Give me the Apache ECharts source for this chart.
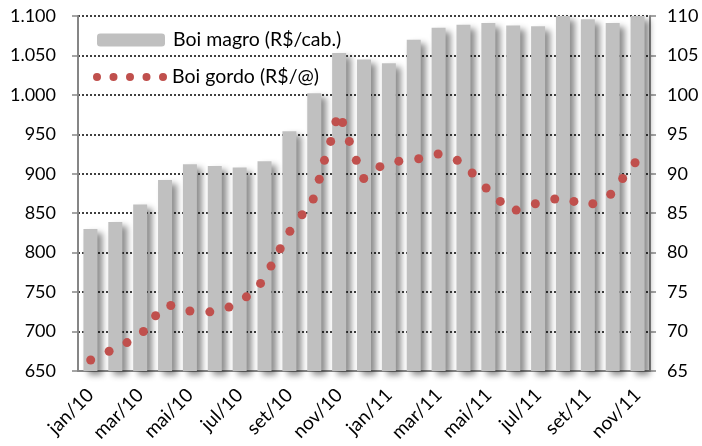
<!DOCTYPE html>
<html lang="pt">
<head>
  <meta charset="UTF-8" />
  <title>Boi magro x Boi gordo</title>
  <script src="https://cdn.jsdelivr.net/npm/echarts@6/dist/echarts.min.js"></script>
  <style>
    html, body { margin: 0; padding: 0; background: #fff; }
    #chart { width: 702px; height: 446px; }
  </style>
</head>
<body>
  <div id="chart"></div>
  <script>
    // meses (eixo das barras)
    var months = ["jan/10", "fev/10", "mar/10", "abr/10", "mai/10", "jun/10", "jul/10", "ago/10",
      "set/10", "out/10", "nov/10", "dez/10", "jan/11", "fev/11", "mar/11", "abr/11", "mai/11",
      "jun/11", "jul/11", "ago/11", "set/11", "out/11", "nov/11"];

    // Boi magro (R$/cab.) - eixo esquerdo
    var boiMagro = [830, 839, 861, 892, 912, 910, 908, 916, 954, 1002, 1053, 1045, 1040, 1070,
      1085, 1089, 1091, 1088, 1087, 1100, 1096, 1091, 1100];

    // Boi gordo (R$/@) - eixo direito, posicao em meses desde o inicio de jan/10
    var gordoPos = [0.51, 1.25, 1.97, 2.63, 3.12, 3.73, 4.50, 5.30, 6.07, 6.77, 7.34, 7.76, 8.13,
      8.52, 9.01, 9.46, 9.70, 9.91, 10.16, 10.37, 10.64, 10.91, 11.19, 11.49, 12.14, 12.90, 13.70,
      14.48, 15.25, 15.85, 16.41, 16.98, 17.62, 18.39, 19.17, 19.94, 20.70, 21.42, 21.90, 22.40];
    var boiGordo = [66.4, 67.5, 68.6, 70.0, 72.0, 73.3, 72.6, 72.5, 73.1, 74.4, 76.1, 78.3, 80.5,
      82.7, 84.8, 86.8, 89.3, 91.7, 94.1, 96.6, 96.5, 94.1, 91.7, 89.4, 90.9, 91.6, 91.9, 92.5,
      91.7, 90.1, 88.2, 86.5, 85.4, 86.2, 86.8, 86.5, 86.2, 87.4, 89.4, 91.4];

    var FONT = "Lato";
    var FS = 18;

    function thousands(v) {
      if(v < 1000) return String(v);
      return Math.floor(v / 1000) + "." + String(v % 1000).padStart(3, "0");
    }

    // legenda com 5 pontinhos
    function dotsIcon() {
      var p = "";
      for(var i = 0; i < 5; i++) {
        var x = i * 16.5;
        p += "M" + x + ",4a4,4 0 1,0 8,0a4,4 0 1,0 -8,0";
      }
      return "path://" + p;
    }

    var chart = echarts.init(document.getElementById("chart"));
    var axisGray = "#868686";

    chart.setOption({
      animation: false,
      grid: { left: 78, right: 52, top: 16, bottom: 75 },
      legend: [{
        data: ["Boi magro (R$/cab.)"],
        left: 92, top: 25,
        itemWidth: 68, itemHeight: 13,
        textStyle: { fontFamily: FONT, fontSize: 19.5, color: "#000", padding: [0, 0, 0, 3] }
      }, {
        data: [{ name: "Boi gordo (R$/@)", icon: dotsIcon() }],
        left: 88, top: 62,
        itemWidth: 74, itemHeight: 8,
        textStyle: { fontFamily: FONT, fontSize: 19.5, color: "#000" }
      }],
      xAxis: [{
        type: "category",
        data: months,
        boundaryGap: true,
        axisLine: { lineStyle: { color: axisGray, width: 2 } },
        axisTick: { interval: 1, length: 5, lineStyle: { color: axisGray, width: 1.5 } },
        axisLabel: { interval: 1, rotate: 45, margin: 21, fontFamily: FONT, fontSize: 19, color: "#000" }
      }, {
        type: "value",
        min: 0, max: months.length,
        show: false
      }],
      yAxis: [{
        type: "value",
        min: 650, max: 1100, interval: 50,
        axisLine: { show: true, lineStyle: { color: axisGray, width: 2 } },
        axisTick: { show: true, length: 6, lineStyle: { color: axisGray, width: 1.5 } },
        axisLabel: { margin: 22, fontFamily: FONT, fontSize: FS, color: "#000", formatter: thousands },
        splitLine: { lineStyle: { color: "#000", type: [2, 2], width: 1.5 } }
      }, {
        type: "value",
        min: 65, max: 110, interval: 5,
        position: "right",
        axisLine: { show: true, lineStyle: { color: axisGray, width: 2 } },
        axisTick: { show: true, length: 6, lineStyle: { color: axisGray, width: 1.5 } },
        axisLabel: { margin: 17, fontFamily: FONT, fontSize: FS, color: "#000" },
        splitLine: { show: false }
      }],
      series: [{
        name: "Boi magro (R$/cab.)",
        type: "bar",
        data: boiMagro,
        barWidth: 14,
        itemStyle: {
          color: "#c0c0c0",
          shadowColor: "rgba(0,0,0,0.45)",
          shadowBlur: 6,
          shadowOffsetX: 5,
          shadowOffsetY: 4
        }
      }, {
        name: "Boi gordo (R$/@)",
        type: "scatter",
        xAxisIndex: 1,
        yAxisIndex: 1,
        symbolSize: 9,
        itemStyle: { color: "#c0504d", opacity: 1 },
        data: gordoPos.map(function(x, i) { return [x, boiGordo[i]]; }),
        z: 5
      }]
    });
  </script>
</body>
</html>
